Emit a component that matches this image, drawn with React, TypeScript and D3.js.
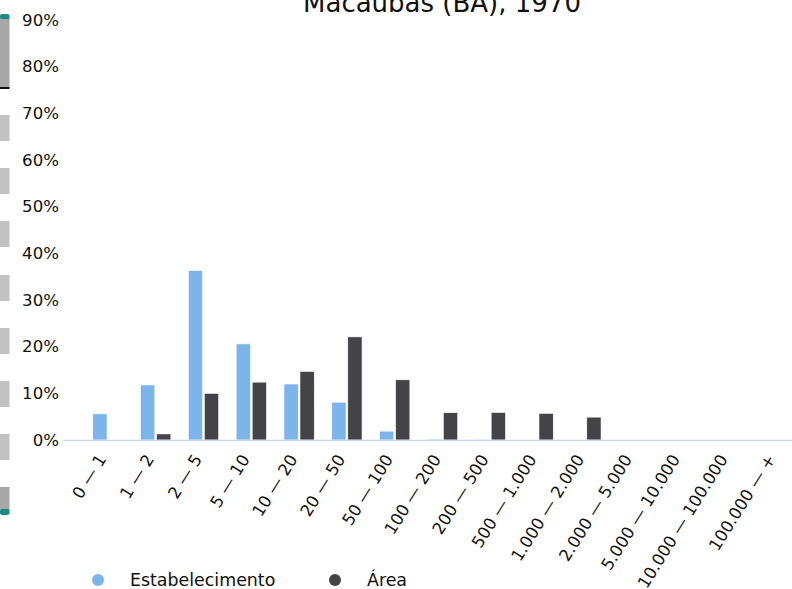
import React from "react";
import * as d3 from "d3";

const categories = ["0 — 1", "1 — 2", "2 — 5", "5 — 10", "10 — 20", "20 — 50", "50 — 100", "100 — 200", "200 — 500", "500 — 1.000", "1.000 — 2.000", "2.000 — 5.000", "5.000 — 10.000", "10.000 — 100.000", "100.000 — +"];
const estabelecimento = [5.6, 11.8, 36.3, 20.6, 12.0, 8.1, 1.9, 0.2, 0.05, 0, 0, 0, 0, 0, 0];
const area = [0, 1.3, 10.0, 12.4, 14.7, 22.1, 12.9, 5.85, 5.9, 5.7, 4.9, 0, 0, 0, 0];
const yTicks = [0, 10, 20, 30, 40, 50, 60, 70, 80, 90];
const seriesNames = ["Estabelecimento", "Área"];
const seriesColors = ["#7cb5ec", "#434348"];
const title = "Macaúbas (BA), 1970";

const W = 792, H = 589;
const FONT = "DejaVu Sans, sans-serif";

export default function App() {
  const x = d3.scaleBand<string>().domain(categories).range([84, 84 + 15 * 47.8]).paddingInner(0).paddingOuter(0);
  const bw = x.bandwidth();
  const xs = d3.scaleBand<string>().domain(seriesNames).range([0.183 * bw, 0.817 * bw]).paddingInner(0.11);
  const y = d3.scaleLinear().domain([0, 90]).range([440, 20]);
  const series = [estabelecimento, area];
  const blocks = [115, 168, 221, 275, 328, 381, 434];

  return (
    <svg width={W} height={H} style={{ position: "absolute", left: 0, top: 0, background: "#fff" }} fontFamily={FONT}>
      <rect x={0} y={0} width={W} height={H} fill="#fff" />
      {/* left strip */}
      <rect x={0} y={14} width={9.5} height={6} rx={2} fill="#1a8a86" />
      <rect x={0} y={19} width={9.5} height={69} fill="#a8a8a8" />
      <rect x={0} y={87} width={9.5} height={2} fill="#111" />
      {blocks.map((b) => (
        <rect key={b} x={0} y={b} width={9.5} height={26} fill="#c2c2c2" />
      ))}
      <rect x={0} y={487} width={9.5} height={24} fill="#a8a8a8" />
      <rect x={0} y={509} width={9.5} height={6} rx={2} fill="#1a8a86" />

      <text x={442} y={12} textAnchor="middle" fontSize={26} fill="#111">{title}</text>

      {yTicks.map((t) => (
        <text key={t} x={59} y={y(t)} dy="0.35em" textAnchor="end" fontSize={16.6} fill="#111">{t}%</text>
      ))}

      {series.map((vals, si) =>
        vals.map((v, i) => {
          const x0 = (x(categories[i]) as number) + (xs(seriesNames[si]) as number);
          const h = y(0) - y(v);
          if (h <= 0) return null;
          return <rect key={si + "-" + i} x={x0} y={y(v)} width={xs.bandwidth()} height={h} fill={seriesColors[si]} stroke="#fff" strokeWidth={0.6} />;
        })
      )}

      <line x1={63} x2={W} y1={440.5} y2={440.5} stroke="#ccd6eb" strokeWidth={1.5} />

      {categories.map((c) => {
        const cx = (x(c) as number) + bw / 2;
        return (
          <text key={c} transform={`translate(${cx - 1},${459}) rotate(-58)`} textAnchor="end" fontSize={16.6} fill="#111">{c}</text>
        );
      })}

      {seriesNames.map((n, i) => {
        const lx = i === 0 ? 98 : 335;
        return (
          <g key={n}>
            <circle cx={lx} cy={580} r={6} fill={seriesColors[i]} />
            <text x={lx + 32} y={586} fontSize={17.4} fill="#111">{n}</text>
          </g>
        );
      })}
    </svg>
  );
}
